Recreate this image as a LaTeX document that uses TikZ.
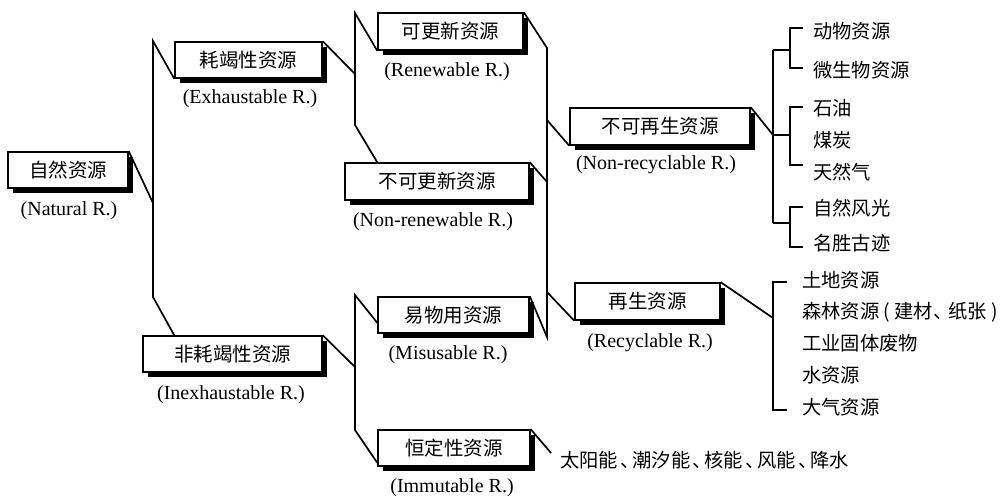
\documentclass[tikz,border=0pt]{standalone}
\usepackage{fontspec}
\setmainfont{Liberation Serif}
\newfontfamily\cjk{Noto Sans CJK SC}
\usetikzlibrary{shadows}
\begin{document}
\begin{tikzpicture}[x=1pt,y=-1pt,
  box/.style={draw, line width=1.5pt, fill=white, minimum height=36pt, inner sep=0pt,
    font=\cjk\fontsize{19.5}{22}\selectfont,
    drop shadow={shadow xshift=4.5pt,shadow yshift=-4.5pt,fill=black,opacity=1}},
  lbl/.style={font=\fontsize{20}{22}\selectfont, inner sep=0pt},
  item/.style={anchor=west, inner sep=0pt, font=\cjk\fontsize{19.3}{22}\selectfont},
  ln/.style={line width=1.7pt, line join=miter}]
\useasboundingbox (0,0) rectangle (1004,498);
\fill[white] (0,0) rectangle (1004,498);

% boxes
\node[box, minimum width=120pt] (nat) at (68,170) {自然资源};
\node[box, minimum width=147pt] (exh) at (248.5,60) {耗竭性资源};
\node[box, minimum width=179pt] (inexh) at (232.5,354) {非耗竭性资源};
\node[box, minimum width=145pt, minimum height=37pt] (ren) at (450.5,31.5) {可更新资源};
\node[box, minimum width=184pt, minimum height=37pt] (nonren) at (437,181.5) {不可更新资源};
\node[box, minimum width=151pt] (mis) at (453.5,315) {易物用资源};
\node[box, minimum width=152pt] (imm) at (454,448) {恒定性资源};
\node[box, minimum width=180pt, minimum height=37pt] (nonrec) at (660,126.5) {不可再生资源};
\node[box, minimum width=145pt, minimum height=37pt] (rec) at (647.5,301.5) {再生资源};

% english labels
\node[lbl] (natL) at (69,211) {(Natural R.)};
\node[lbl] (exhL) at (250,99) {(Exhaustable R.)};
\node[lbl] (inexhL) at (231,395) {(Inexhaustable R.)};
\node[lbl] (renL) at (447,72) {(Renewable R.)};
\node[lbl] (nonrenL) at (433,222) {(Non-renewable R.)};
\node[lbl] (misL) at (448,355) {(Misusable R.)};
\node[lbl] (immL) at (452,488) {(Immutable R.)};
\node[lbl] (nonrecL) at (656,165) {(Non-recyclable R.)};
\node[lbl] (recL) at (650,343) {(Recyclable R.)};

% items
\node[item] (a1) at (813,31) {动物资源};
\node[item] (a2) at (813,70) {微生物资源};
\node[item] (a3) at (813,108) {石油};
\node[item] (a4) at (813,140) {煤炭};
\node[item] (a5) at (813,172) {天然气};
\node[item] (a6) at (813,208) {自然风光};
\node[item] (a7) at (813,243) {名胜古迹};
\node[item] (b1) at (802,280) {土地资源};
\node[item] (b2) at (802,312) {森林资源 ( 建材、\kern-4pt 纸张 )};
\node[item] (b3) at (802,343) {工业固体废物};
\node[item] (b4) at (802,375) {水资源};
\node[item] (b5) at (802,407) {大气资源};
\node[item] (c1) at (560,460) {太阳能\kern2pt、\kern-7pt 潮汐能\kern2pt、\kern-7pt 核能\kern2pt、\kern-7pt 风能\kern2pt、\kern-7pt 降水};

% connector coordinates
\coordinate (v1t) at (153,41);
\coordinate (v1m) at (153,203);
\coordinate (v1b) at (153,297);
\coordinate (v2t) at (355,13);
\coordinate (v2a) at (355,74);
\coordinate (v2b) at (355,125);
\coordinate (v3t) at (355,295);
\coordinate (v3a) at (355,367);
\coordinate (v3b) at (355,430);
\coordinate (v4t) at (547,48);
\coordinate (v4a) at (547,120);
\coordinate (v4c) at (547,182);
\coordinate (v4d) at (547,292);
\coordinate (v4b) at (547,337);
\coordinate (v5t) at (773,50);
\coordinate (v5a) at (773,135);
\coordinate (v5b) at (773,223);
\coordinate (v6) at (773,318);
\coordinate (v7) at (551,453);

% connectors
\draw[ln] (exh.south west) -- (v1t) -- (v1b) -- ([xshift=32pt]inexh.north west);
\draw[ln] (nat.north east) -- (v1m);
\draw[ln] (ren.south west) -- (v2t) -- (v2b) -- ([xshift=33pt]nonren.north west);
\draw[ln] (exh.north east) -- (v2a);
\draw[ln] ([yshift=11pt]mis.south west) -- (v3t) -- (v3b) -- ([yshift=4pt]imm.south west);
\draw[ln] (inexh.north east) -- (v3a);
\draw[ln] (ren.north east) -- (v4t) -- (v4b) -- (mis.north east);
\draw[ln] (nonren.north east) -- (v4c);
\draw[ln] (v4a) -- (nonrec.south west);
\draw[ln] (v4d) -- (rec.south west);
\draw[ln] (nonrec.north east) -- (v5a);
\draw[ln] (v5t) -- (v5b);
\draw[ln] (v5t) -- (790,50);
\draw[ln] (v5a) -- (790,135);
\draw[ln] (v5b) -- (790,223);
\draw[ln] (803,28) -- (790,28) -- (790,68) -- (803,68);
\draw[ln] (803,107) -- (790,107) -- (790,165) -- (803,165);
\draw[ln] (803,207) -- (790,207) -- (790,247) -- (803,247);
\draw[ln] (rec.north east) -- (v6);
\draw[ln] (787,282) -- (773,282) -- (773,410) -- (787,410);
\draw[ln] (imm.north east) -- (v7);
\end{tikzpicture}
\end{document}
